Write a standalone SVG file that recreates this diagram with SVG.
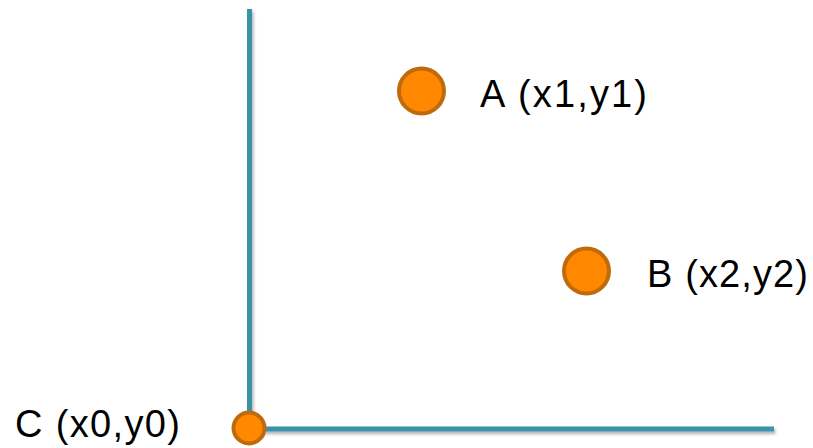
<svg xmlns="http://www.w3.org/2000/svg" width="813" height="448" viewBox="0 0 813 448">
<defs>
<filter id="sh" x="-10%" y="-10%" width="120%" height="200%">
<feDropShadow dx="1.5" dy="2.5" stdDeviation="1.5" flood-color="#000" flood-opacity="0.3"/>
</filter>
<style>
.ax{stroke:#3a93a6;stroke-width:5;fill:none}
.pt{fill:#ff8800;stroke:#c06a0e;stroke-width:4}
.lb{font-family:"Liberation Sans",Arial,sans-serif;font-size:38px;fill:#000}
</style>
</defs>
<g id="connectors" filter="url(#sh)">
<line class="ax" x1="249.5" y1="9" x2="249.5" y2="431"/>
<line class="ax" x1="247" y1="429" x2="774" y2="429"/>
</g>
<g id="A">
<circle class="pt" cx="421.5" cy="91" r="22.5"/>
<text class="lb" x="480" y="107" textLength="167" lengthAdjust="spacing">A (x1,y1)</text>
</g>
<g id="B">
<circle class="pt" cx="586.5" cy="271" r="22.5"/>
<text class="lb" x="647" y="287" textLength="161" lengthAdjust="spacing">B (x2,y2)</text>
</g>
<g id="C">
<circle class="pt" cx="249" cy="428" r="15.5"/>
<text class="lb" x="15" y="437" textLength="165" lengthAdjust="spacing">C (x0,y0)</text>
</g>
</svg>
